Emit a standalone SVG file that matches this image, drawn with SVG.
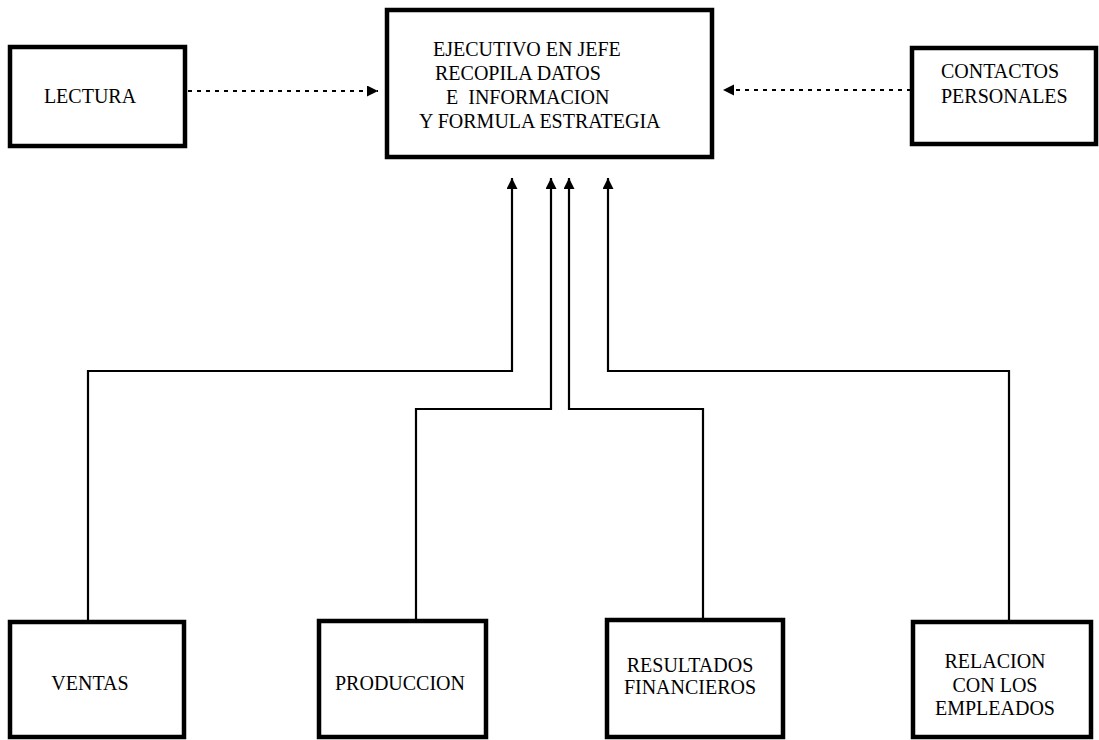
<svg xmlns="http://www.w3.org/2000/svg" width="1099" height="740" viewBox="0 0 1099 740">
  <style>
    .box { fill: #ffffff; stroke: #000000; stroke-width: 4.5; }
    .lbl { font-family: 'Liberation Serif', 'Tinos', 'Times New Roman', 'DejaVu Serif', serif; font-size: 20px; fill: #000000; }
    .mid { text-anchor: middle; }
    .wire { fill: none; stroke: #000000; stroke-width: 2.2; }
    .dots { fill: none; stroke: #000000; stroke-width: 2; stroke-dasharray: 4 5; }
  </style>
  <defs>
    <marker id="head" markerUnits="userSpaceOnUse" markerWidth="12" markerHeight="12" refX="11" refY="5.5" orient="auto">
      <path d="M0,0 L11,5.5 L0,11 z" fill="#000000"/>
    </marker>
  </defs>
  <rect width="1099" height="740" fill="#ffffff"/>

  <!-- connectors -->
  <g id="connectors">
    <line class="dots" x1="188" y1="91" x2="378" y2="91" marker-end="url(#head)"/>
    <line class="dots" x1="911" y1="90" x2="723" y2="90" marker-end="url(#head)"/>
    <polyline class="wire" points="88,622 88,371 512,371 512,178" marker-end="url(#head)"/>
    <polyline class="wire" points="416,621 416,409 551,409 551,178" marker-end="url(#head)"/>
    <polyline class="wire" points="703,620 703,409 569,409 569,178" marker-end="url(#head)"/>
    <polyline class="wire" points="1009,622 1009,371 608,371 608,178" marker-end="url(#head)"/>
  </g>

  <!-- central node -->
  <g id="ejecutivo">
    <rect class="box" x="387" y="10" width="325" height="147"/>
    <text class="lbl" x="433" y="56">EJECUTIVO EN JEFE</text>
    <text class="lbl" x="435" y="80">RECOPILA DATOS</text>
    <text class="lbl" x="446" y="104" xml:space="preserve">E  INFORMACION</text>
    <text class="lbl" x="419" y="128">Y FORMULA ESTRATEGIA</text>
  </g>

  <!-- outside sources -->
  <g id="lectura">
    <rect class="box" x="10" y="47" width="175" height="99"/>
    <text class="lbl mid" x="90" y="103">LECTURA</text>
  </g>
  <g id="contactos">
    <rect class="box" x="912" y="48" width="184" height="96"/>
    <text class="lbl" x="941" y="78">CONTACTOS</text>
    <text class="lbl" x="941" y="103">PERSONALES</text>
  </g>

  <!-- internal sources -->
  <g id="ventas">
    <rect class="box" x="10" y="622" width="174" height="115"/>
    <text class="lbl mid" x="90" y="690">VENTAS</text>
  </g>
  <g id="produccion">
    <rect class="box" x="319" y="621" width="167" height="116"/>
    <text class="lbl mid" x="400" y="690">PRODUCCION</text>
  </g>
  <g id="resultados">
    <rect class="box" x="607" y="620" width="176" height="117"/>
    <text class="lbl mid" x="690" y="672">RESULTADOS</text>
    <text class="lbl mid" x="690" y="694">FINANCIEROS</text>
  </g>
  <g id="relacion">
    <rect class="box" x="913" y="622" width="178" height="115"/>
    <text class="lbl mid" x="995" y="668">RELACION</text>
    <text class="lbl mid" x="995" y="692">CON LOS</text>
    <text class="lbl mid" x="995" y="715">EMPLEADOS</text>
  </g>
</svg>
